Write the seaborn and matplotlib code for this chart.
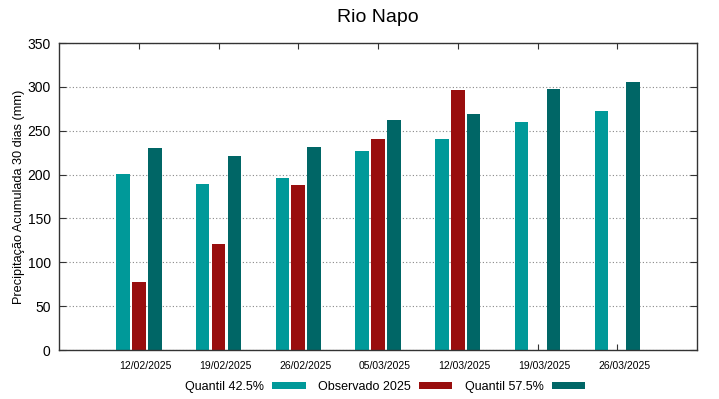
import numpy as np
import pandas as pd
import matplotlib
matplotlib.use('Agg')
import matplotlib.pyplot as plt
import matplotlib.transforms as mtransforms
import seaborn as sns

# dados
datas = ['12/02/2025', '19/02/2025', '26/02/2025', '05/03/2025',
         '12/03/2025', '19/03/2025', '26/03/2025']
quantil_425 = [201, 189, 196, 227, 240, 260, 273]
observado_2025 = [78, 121, 188, 240, 296, np.nan, np.nan]
quantil_575 = [230, 221, 231, 262, 269, 298, 306]

series = ['Quantil 42.5%', 'Observado 2025', 'Quantil 57.5%']
cores = ['#009999', '#990e0e', '#006666']

df = pd.DataFrame({
    'data': datas * 3,
    'serie': [series[0]] * 7 + [series[1]] * 7 + [series[2]] * 7,
    'valor': quantil_425 + observado_2025 + quantil_575,
})

sns.set_style('white')
plt.rcParams['font.family'] = ['Liberation Sans', 'DejaVu Sans']
plt.rcParams['text.color'] = 'black'
plt.rcParams['axes.labelcolor'] = 'black'
plt.rcParams['xtick.labelcolor'] = 'black'
plt.rcParams['ytick.labelcolor'] = 'black'

fig = plt.figure(figsize=(7.19, 3.99), dpi=100)
ax = fig.add_axes([0.0821, 0.1228, 0.8873, 0.7694])

sns.barplot(data=df, x='data', y='valor', hue='serie', hue_order=series,
            palette=cores, width=0.6, gap=0.15, errorbar=None,
            saturation=1, linewidth=0, ax=ax)

ax.set_xlim(-1, 7)
ax.set_ylim(0, 350)
ax.set_yticks(range(0, 351, 50))
ax.set_axisbelow(True)
ax.yaxis.grid(True, linestyle=(0, (1, 2)), color='#888888', linewidth=0.8)

ax.tick_params(axis='x', direction='in', top=True, bottom=True, length=4,
               labelsize=7.5, pad=8, color='#333333')
ax.tick_params(axis='y', direction='in', left=True, right=True, length=5,
               labelsize=10, pad=6, color='#333333')
for s in ax.spines.values():
    s.set_color('#333333')
    s.set_linewidth(1)

# rotulos das datas levemente deslocados para a direita
desloc = mtransforms.ScaledTranslation(7 / 100, 0, fig.dpi_scale_trans)
for lab in ax.get_xticklabels():
    lab.set_transform(lab.get_transform() + desloc)

ax.set_xlabel('')
ax.set_ylabel('Precipitação Acumulada 30 dias (mm)', fontsize=9.2, labelpad=1.5)
ax.set_title('Rio Napo', fontsize=14, pad=15)

handles, labels = ax.get_legend_handles_labels()
ax.get_legend().remove()
fig.legend(handles, labels, loc='center', bbox_to_anchor=(385 / 719, 1 - 387 / 399),
           ncol=3, frameon=False, markerfirst=False, fontsize=9,
           handlelength=2.65, handleheight=0.45, handletextpad=0.65,
           columnspacing=1.0)

fig.savefig('out.png', dpi=100)
